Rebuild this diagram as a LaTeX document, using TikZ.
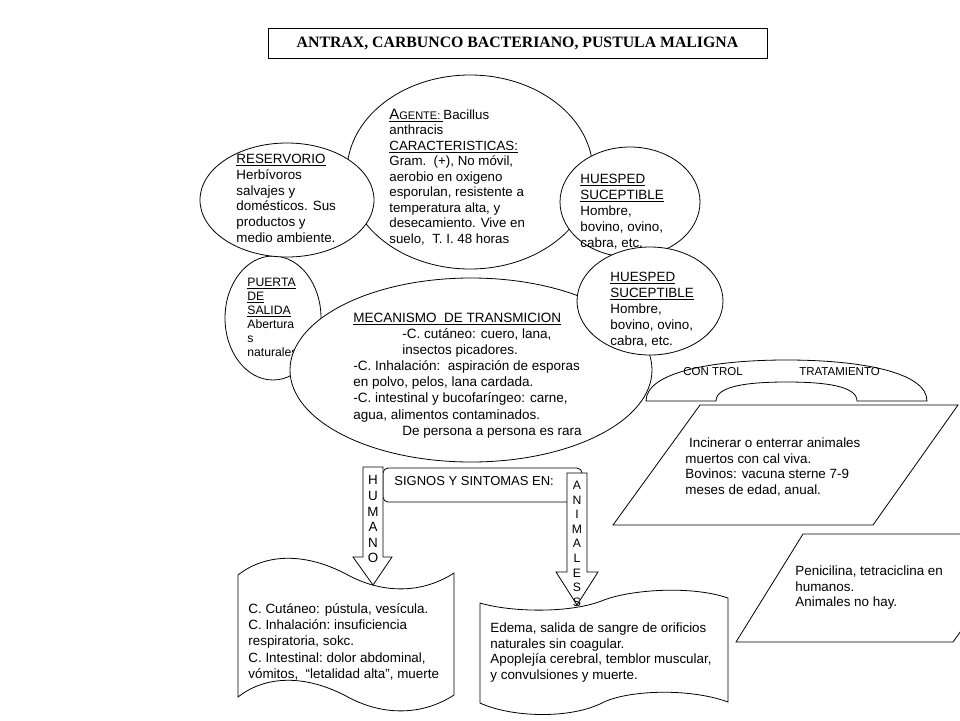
\documentclass[tikz,border=0pt]{standalone}
\usepackage{fontspec}
\setmainfont{Liberation Sans}
\newfontfamily\titlefont{Liberation Serif}
\usetikzlibrary{shapes.geometric}
\newcommand\ts{\rule{0pt}{11pt}}
\newcommand\tsb{\rule{0pt}{10pt}}
\newcommand\undl[1]{\underline{#1}}
\begin{document}
\begin{tikzpicture}[x=1pt,y=-1pt, line width=0.8pt,
  bub/.style={ellipse, draw, fill=white, inner sep=0pt},
  txt/.style={anchor=north west, inner sep=0pt, align=left, font=\fontsize{13.4}{15.6}\selectfont},
  smalltxt/.style={inner sep=0pt, font=\fontsize{11.5}{13}\selectfont},
  shp/.style={draw, fill=white, line join=miter}]
\useasboundingbox[fill=white] (0,0) rectangle (960,720);

% title
\node[draw, minimum width=499pt, minimum height=30pt, inner sep=0pt,
      font=\titlefont\bfseries\fontsize{15.8}{18}\selectfont] (title) at (517.5,43)
      {ANTRAX, CARBUNCO BACTERIANO, PUSTULA MALIGNA};

% agente
\node[bub, minimum width=246pt, minimum height=194pt] (agente) at (470,172) {};
\node[txt, font=\fontsize{13.3}{15.5}\selectfont] (agtxt) at (389,108) {\ts\undl{{\fontsize{15}{15}\selectfont A}{\fontsize{11}{11}\selectfont GENTE:\ }}Bacillus\\
anthracis\\
\undl{CARACTERISTICAS:}\\
Gram.\ \ (+), No móvil,\\
aerobio en oxigeno\\
esporulan, resistente a\\
temperatura alta, y\\
desecamiento. Vive en\\
suelo,\ \ T. I. 48 horas};

% puerta de salida
\node[bub, minimum width=96pt, minimum height=124pt] (puerta) at (273,318) {};
\node[txt, font=\fontsize{12.2}{14}\selectfont] (putxt) at (247,276) {\tsb\undl{PUERTA}\\
\undl{DE}\\
\undl{SALIDA}\\
Abertura\\
s\\
naturales};

% reservorio
\node[bub, minimum width=174pt, minimum height=114pt] (reserv) at (287,200) {};
\node[txt, font=\fontsize{13.4}{15.8}\selectfont] (restxt) at (236,152) {\ts\undl{RESERVORIO}\\
Herbívoros\\
salvajes y\\
domésticos. Sus\\
productos y\\
medio ambiente.};

% huesped 1
\node[bub, minimum width=140pt, minimum height=110pt] (hues1) at (630,202) {};
\node[txt, font=\fontsize{13.4}{16}\selectfont] (h1txt) at (580,172) {\ts\undl{HUESPED}\\
\undl{SUCEPTIBLE}\\
Hombre,\\
bovino, ovino,\\
cabra, etc.};

% mecanismo
\node[bub, minimum width=362pt, minimum height=184pt] (mecan) at (471,370) {};
\node[txt, font=\fontsize{13.5}{16.1}\selectfont] (mectxt) at (353,311) {\ts\undl{MECANISMO\ \ DE TRANSMICION}\\
\hspace*{49pt}-C. cutáneo: cuero, lana,\\
\hspace*{49pt}insectos picadores.\\
-C. Inhalación:\ \ aspiración de esporas\\
en polvo, pelos, lana cardada.\\
-C. intestinal y bucofaríngeo: carne,\\
agua, alimentos contaminados.\\
\hspace*{49pt}De persona a persona es rara};

% huesped 2
\node[bub, minimum width=146pt, minimum height=108pt] (hues2) at (650,301) {};
\node[txt, font=\fontsize{13.4}{16}\selectfont] (h2txt) at (610,270) {\ts\undl{HUESPED}\\
\undl{SUCEPTIBLE}\\
Hombre,\\
bovino, ovino,\\
cabra, etc.};

% control / tratamiento shape
\draw[shp] (646,401) -- (716,401)
  .. controls (716,386) and (748,382) .. (786.5,382)
  .. controls (825,382) and (857,386) .. (857,401)
  -- (927,401)
  .. controls (927,372) and (860,360) .. (786.5,360)
  .. controls (713,360) and (646,372) .. (646,401) -- cycle;
\node[smalltxt] (control) at (713,372) {CON TROL};
\node[smalltxt] (tratam) at (839.5,372) {TRATAMIENTO};

% parallelograms
\draw[shp] (700,405) -- (958,405) -- (873,525) -- (613,525) -- cycle;
\node[txt] (ctltxt) at (685,436) {\ts\ Incinerar\ o enterrar\ animales\\
muertos con cal viva.\\
Bovinos: vacuna sterne 7-9\\
meses\ de edad, anual.};
\draw[shp] (803,534) -- (1030,534) -- (953,642) -- (736,642) -- cycle;
\node[txt] (tratxt) at (795,564) {\ts Penicilina, tetraciclina en\\
humanos.\\
Animales no hay.};

% signos y sintomas
\node[draw, rounded corners=5pt, minimum width=199pt, minimum height=34pt, inner sep=0pt] (signos) at (482.5,485) {};
\node[anchor=west, inner sep=0pt, font=\fontsize{13}{15.6}\selectfont] (sigtxt) at (394,481) {SIGNOS Y SINTOMAS EN:};

% tape boxes
\draw[shp] (238,575) .. controls (262,556) and (300,550) .. (346,574)
  .. controls (380,593) and (420,595) .. (454,573)
  -- (454,695)
  .. controls (420,717) and (380,715) .. (346,696)
  .. controls (300,672) and (262,678) .. (238,697) -- cycle;
\node[txt, font=\fontsize{13.4}{16.2}\selectfont] (humtxt) at (248,602) {\ts C. Cutáneo: pústula, vesícula.\\
C. Inhalación:\ insuficiencia\\
respiratoria, sokc.\\
C. Intestinal:\ dolor abdominal,\\
vómitos,\ \ “letalidad alta”, muerte};

\draw[shp] (480,603) .. controls (510,612) and (570,614) .. (604,600)
  .. controls (630,590) and (690,585) .. (728,598)
  -- (728,702)
  .. controls (690,688) and (630,690) .. (604,702)
  .. controls (570,720) and (510,717) .. (480,703) -- cycle;
\node[txt, font=\fontsize{13.4}{15.6}\selectfont] (anitxt) at (490,621) {\ts Edema, salida de sangre de orificios\\
naturales\ sin coagular.\\
Apoplejía cerebral, temblor muscular,\\
y convulsiones y muerte.};

% arrows
\draw[shp] (363,467) -- (383,467) -- (383,557) -- (392,557) -- (373,585) -- (353,557) -- (363,557) -- cycle;
\node[anchor=north, inner sep=0pt, align=center, font=\fontsize{13.4}{15.6}\selectfont] (humano) at (373,473.5) {\ts H\\U\\M\\A\\N\\O};
\draw[shp] (567,473) -- (587,473) -- (587,572) -- (598,572) -- (577,605) -- (556,572) -- (567,572) -- cycle;
\node[anchor=north, inner sep=0pt, align=center, font=\fontsize{12.2}{14.6}\selectfont] (animales) at (577,479) {\tsb A\\N\\I\\M\\A\\L\\E\\S\\S};
\end{tikzpicture}
\end{document}
